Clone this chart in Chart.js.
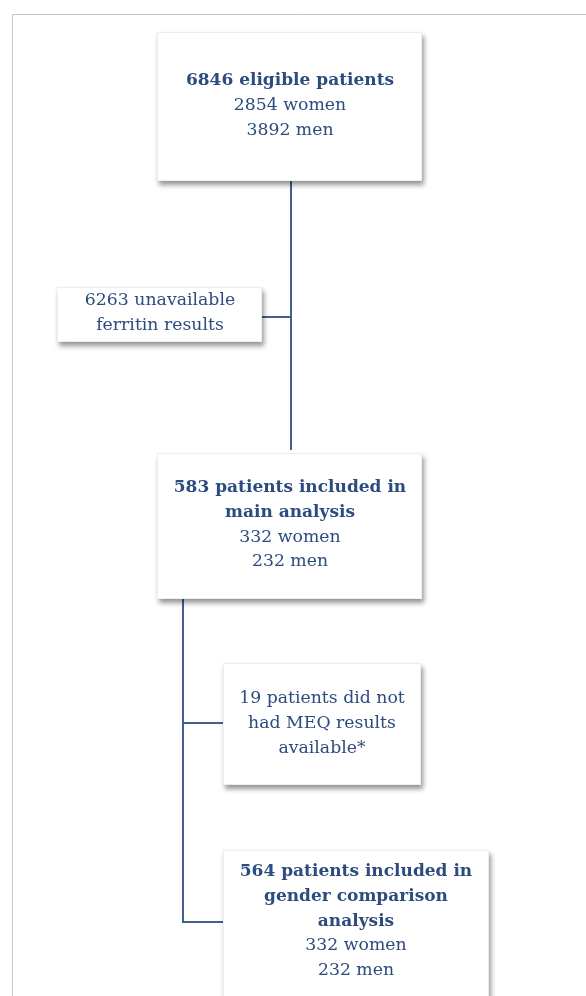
<!DOCTYPE html>
<html><head><meta charset="utf-8">
<script src="https://cdn.jsdelivr.net/npm/chart.js@4/dist/chart.umd.min.js"></script>
<style>html,body{margin:0;padding:0;background:#fff;overflow:hidden}</style>
</head><body>
<canvas id="c" width="586" height="996"></canvas>
<script>
// ---- content (data) ----
const boxIds = ['eligible', 'ferritin', 'main', 'meq', 'gender'];
const boxBoldLines = [
  ['6846 eligible patients'],
  [],
  ['583 patients included in', 'main analysis'],
  [],
  ['564 patients included in', 'gender comparison', 'analysis']
];
const boxRegularLines = [
  ['2854 women', '3892 men'],
  ['6263 unavailable', 'ferritin results'],
  ['332 women', '232 men'],
  ['19 patients did not', 'had MEQ results', 'available*'],
  ['332 women', '232 men']
];

// ---- layout (positions in page units) ----
const boxRects = [            // [left, top, right, bottom]
  [157, 32, 422, 181],
  [57, 287, 262, 342],
  [157, 453, 422, 599],
  [223, 663, 421, 785],
  [223, 850, 489, 1012]
];
const textAnchor = [          // [centre x, centre y of first line]
  [290, 81],
  [160, 301],
  [290, 488],
  [322, 699],
  [356, 872]
];
const connectorPaths = [
  [[291, 181], [291, 450]],
  [[262, 317], [291, 317]],
  [[183, 599], [183, 922], [223, 922]],
  [[183, 723], [223, 723]]
];

const LINE_H = 24.6;
const TEXT_COLOR = '#2c4b7e';
const LINE_COLOR = '#42608f';
const FONT_FAMILY = '"DejaVu Serif", serif';

const datasets = connectorPaths.map(p => ({
  data: p.map(([x, y]) => ({x, y})),
  showLine: true,
  borderColor: LINE_COLOR,
  borderWidth: 2,
  pointRadius: 0,
  fill: false,
  tension: 0
}));

const flowPlugin = {
  id: 'flow',
  beforeDatasetsDraw(chart) {
    const {ctx, scales: {x, y}} = chart;
    ctx.save();
    ctx.strokeStyle = '#c6c6c6';
    ctx.lineWidth = 1;
    ctx.beginPath();
    ctx.moveTo(Math.round(x.getPixelForValue(12)) + 0.5, y.getPixelForValue(1000));
    ctx.lineTo(Math.round(x.getPixelForValue(12)) + 0.5, Math.round(y.getPixelForValue(14)) + 0.5);
    ctx.lineTo(x.getPixelForValue(590), Math.round(y.getPixelForValue(14)) + 0.5);
    ctx.stroke();
    ctx.restore();
  },
  afterDatasetsDraw(chart) {
    const {ctx, scales: {x, y}} = chart;
    boxIds.forEach((id, i) => {
      const [l, t, r, b] = boxRects[i];
      const px = x.getPixelForValue(l), py = y.getPixelForValue(t);
      const pw = x.getPixelForValue(r) - px, ph = y.getPixelForValue(b) - py;
      ctx.save();
      ctx.shadowColor = 'rgba(0,0,0,0.42)';
      ctx.shadowBlur = 5;
      ctx.shadowOffsetX = 2;
      ctx.shadowOffsetY = 4;
      ctx.fillStyle = '#ffffff';
      ctx.fillRect(px, py, pw, ph);
      ctx.restore();
      ctx.save();
      ctx.strokeStyle = '#eeeeee';
      ctx.lineWidth = 1;
      ctx.strokeRect(px + 0.5, py + 0.5, pw - 1, ph - 1);
      ctx.restore();

      const cx = x.getPixelForValue(textAnchor[i][0]);
      let cy = y.getPixelForValue(textAnchor[i][1]);
      ctx.save();
      ctx.fillStyle = TEXT_COLOR;
      ctx.textAlign = 'center';
      ctx.textBaseline = 'middle';
      ctx.font = 'bold 17px ' + FONT_FAMILY;
      boxBoldLines[i].forEach(s => { ctx.fillText(s, cx, cy); cy += LINE_H; });
      ctx.font = '17.3px ' + FONT_FAMILY;
      boxRegularLines[i].forEach(s => { ctx.fillText(s, cx, cy); cy += LINE_H; });
      ctx.restore();
    });
  }
};

new Chart(document.getElementById('c'), {
  type: 'scatter',
  data: { datasets },
  options: {
    responsive: false,
    devicePixelRatio: 1,
    animation: false,
    layout: { padding: 0 },
    plugins: { legend: { display: false }, tooltip: { enabled: false } },
    scales: {
      x: { type: 'linear', min: 0, max: 586, display: false },
      y: { type: 'linear', min: 0, max: 996, reverse: true, display: false }
    }
  },
  plugins: [flowPlugin]
});
</script>
</body></html>
